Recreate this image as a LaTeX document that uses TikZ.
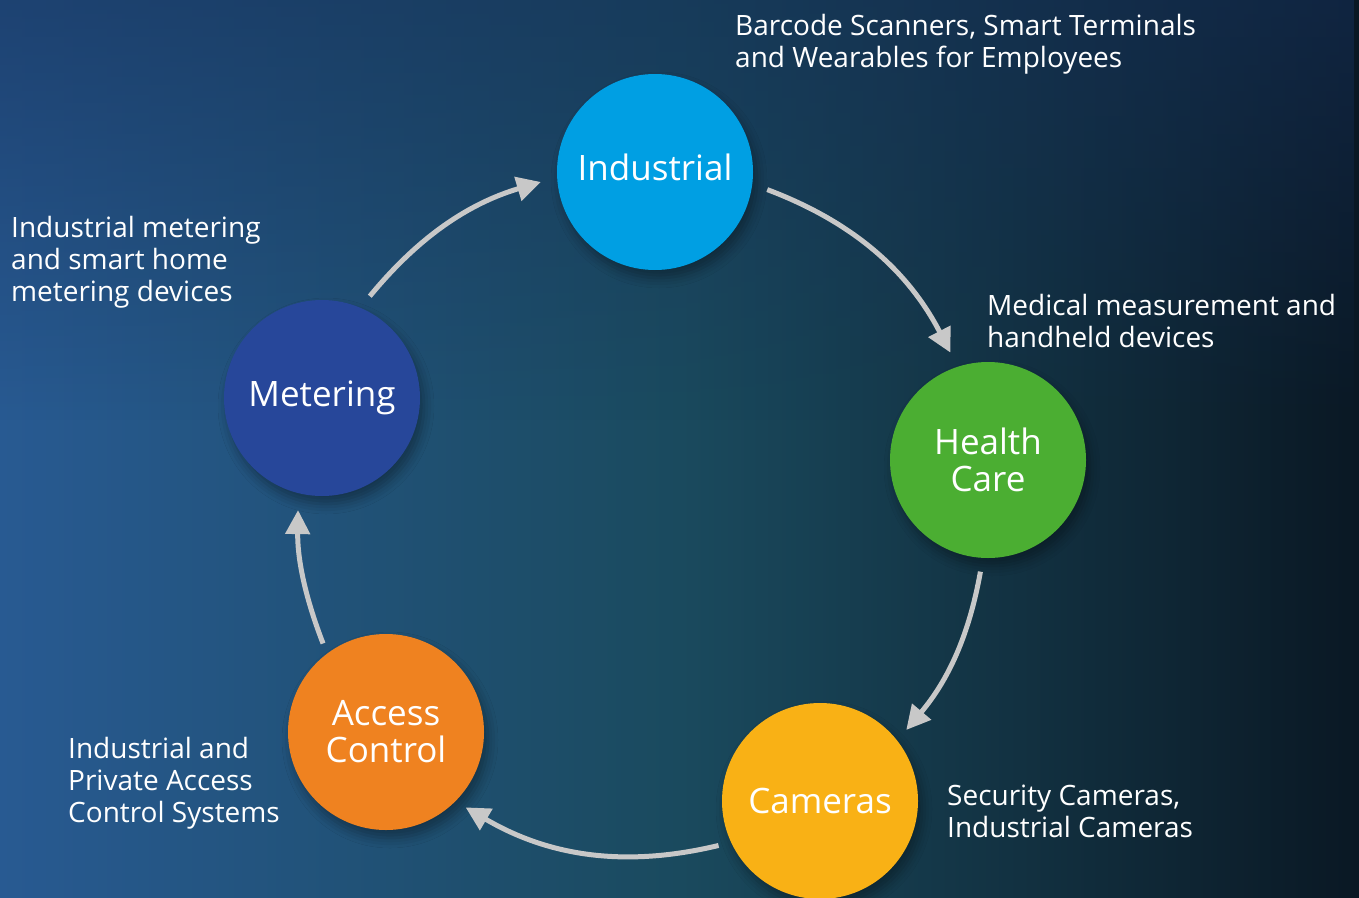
\documentclass[tikz,border=0pt]{standalone}
\usepackage{fontspec}
\setmainfont{Open Sans}
\usetikzlibrary{shadows.blur,fadings,arrows.meta}
\definecolor{bgleft}{HTML}{285A92}
\definecolor{bgmid}{HTML}{1A4A5E}
\definecolor{bgright}{HTML}{0A1824}
\definecolor{bgtop}{HTML}{152F58}
\definecolor{indblue}{HTML}{009FE3}
\definecolor{hcgreen}{HTML}{4BAE32}
\definecolor{camyellow}{HTML}{F9B115}
\definecolor{acorange}{HTML}{EF8220}
\definecolor{metblue}{HTML}{27479A}
\definecolor{arrowgray}{HTML}{C8C8C8}
\tikzfading[name=topdark, top color=transparent!0, bottom color=transparent!100]
\tikzset{
  sector/.style={circle, minimum size=196pt, inner sep=0pt, outer sep=0pt,
    text=white, align=center, font=\fontsize{35}{37}\selectfont,
    blur shadow={shadow xshift=4pt, shadow yshift=-8pt, shadow blur radius=10pt, shadow opacity=35}},
  note/.style={anchor=base west, text=white, align=left, inner sep=0pt,
    font=\fontsize{28}{32}\selectfont},
  flow/.style={arrowgray, line width=5pt, -{Triangle[length=24pt, width=24pt]}}
}
\begin{document}
\begin{tikzpicture}[x=1pt, y=-1pt]
      \useasboundingbox (0,0) rectangle (1359,897);
      \fill[left color=bgleft, right color=bgright, middle color=bgmid] (0,0) rectangle (1359,897);
      \fill[bgtop, path fading=topdark, fill opacity=0.55] (0,0) rectangle (1359,420);
      \node[sector, fill=indblue] (ind) at (655,172) {\raisebox{9pt}{Industrial}};
      \node[sector, fill=hcgreen] (hc) at (988,460) {Health\\Care};
      \node[sector, fill=camyellow] (cam) at (820,801) {Cameras};
      \node[sector, fill=acorange] (ac) at (386,732) {Access\\Control};
      \node[sector, fill=metblue] (met) at (322,398) {Metering};
      \draw[flow, shorten <=15pt, shorten >=17pt] (met.67) to[bend left=17] (ind.183);
      \draw[flow, shorten <=16pt, shorten >=16pt] (ind.-7) to[bend left=21] (hc.108);
      \draw[flow, shorten <=14pt, shorten >=14pt] (hc.267) to[bend left=15] (cam.38);
      \draw[flow, shorten <=13pt, shorten >=12pt] (cam.205) to[bend left=22] (ac.-45);
      \draw[flow, shorten <=11pt, shorten >=17pt] (ac.127) to[bend left=11] (met.256);
      \node[note] (indnote) at (735,67) {Barcode Scanners, Smart Terminals\\and Wearables for Employees};
      \node[note] (hcnote) at (987,347) {Medical measurement and\\handheld devices};
      \node[note] (metnote) at (11,301) {Industrial metering\\and smart home\\metering devices};
      \node[note] (acnote) at (68,822) {Industrial and\\Private Access\\Control Systems};
      \node[note] (camnote) at (947,837) {Security Cameras,\\Industrial Cameras};
    \end{tikzpicture}
\end{document}
